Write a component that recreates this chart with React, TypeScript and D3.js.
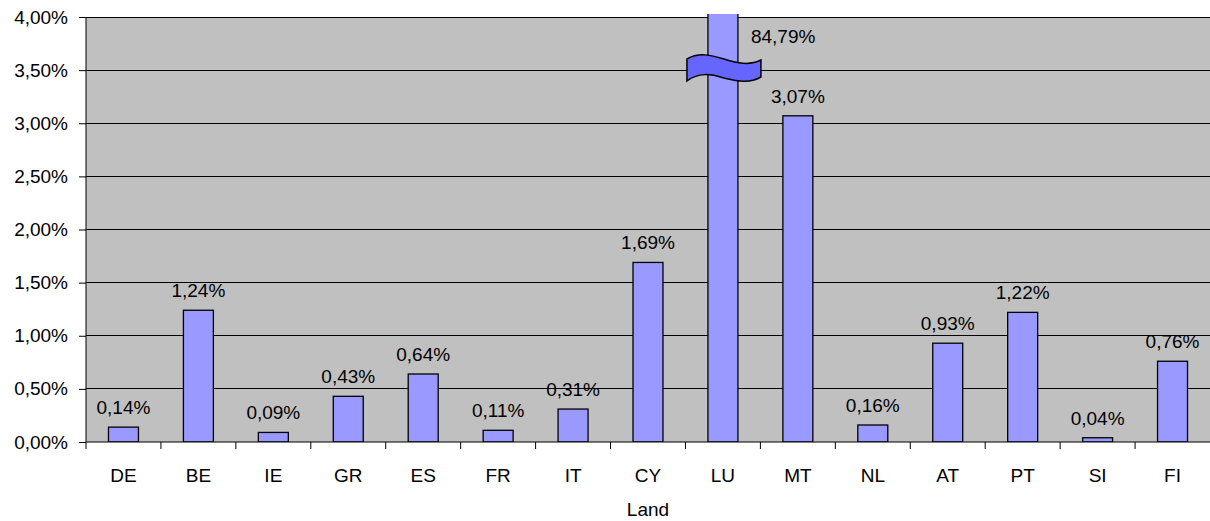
import React, {useEffect, useRef} from 'react';
import * as d3 from 'd3';

const categories = ['DE', 'BE', 'IE', 'GR', 'ES', 'FR', 'IT', 'CY', 'LU', 'MT', 'NL', 'AT', 'PT', 'SI', 'FI'];
const values = [0.0014, 0.0124, 0.0009, 0.0043, 0.0064, 0.0011, 0.0031, 0.0169, 0.8479, 0.0307, 0.0016, 0.0093, 0.0122, 0.0004, 0.0076];
const yTicks = [0, 0.005, 0.01, 0.015, 0.02, 0.025, 0.03, 0.035, 0.04];
const xTitle = 'Land';

const W = 1210;
const H = 521;
const FONT = '"Liberation Sans", Arial, sans-serif';
const FS = 19;

const App = () => {
  const svgRef = useRef<SVGSVGElement>(null);

  useEffect(() => {
    const svg = d3.select(svgRef.current);
    svg.selectAll('*').remove();

    const margin = {top: 17, right: 0, bottom: 79, left: 86};
    const plotW = W - margin.left - margin.right;
    const plotH = H - margin.top - margin.bottom;

    const loc = d3.formatLocale({decimal: ',', thousands: '.', grouping: [3], currency: ['', '€']});
    const pct = loc.format('.2%');

    const x = d3.scaleBand().domain(categories).range([0, plotW]).padding(0);
    const y = d3.scaleLinear().domain([0, 0.04]).range([plotH, 0]);
    const barW = x.bandwidth() * 0.4;

    const g = svg.append('g').attr('transform', `translate(${margin.left},${margin.top})`);

    g.append('rect')
      .attr('width', plotW)
      .attr('height', plotH)
      .attr('fill', '#c0c0c0');

    // gridlines
    g.selectAll('.grid')
      .data(yTicks.slice(1))
      .enter()
      .append('line')
      .attr('x1', 0)
      .attr('x2', plotW)
      .attr('y1', d => y(d))
      .attr('y2', d => y(d))
      .attr('stroke', '#000')
      .attr('stroke-width', 1)
      .attr('shape-rendering', 'crispEdges');

    g.append('clipPath').attr('id', 'plotclip')
      .append('rect').attr('x', 0).attr('y', -3).attr('width', plotW).attr('height', plotH + 3);

    g.append('g')
      .attr('clip-path', 'url(#plotclip)')
      .selectAll('.bar')
      .data(categories)
      .enter()
      .append('rect')
      .attr('x', d => x(d)! + (x.bandwidth() - barW) / 2)
      .attr('width', barW)
      .attr('y', (d, i) => y(Math.min(values[i], 0.0406)))
      .attr('height', (d, i) => plotH - y(Math.min(values[i], 0.0406)))
      .attr('fill', '#9999ff')
      .attr('stroke', '#000')
      .attr('stroke-width', 1.3);

    // axes
    const yAxis = g.append('g').call(d3.axisLeft(y).tickValues(yTicks).tickSize(7).tickFormat(d => pct(d as number)));
    yAxis.select('.domain').attr('stroke', '#000').attr('d', `M0,${plotH}V0`);
    yAxis.selectAll('text').attr('font-family', FONT).attr('font-size', FS).attr('fill', '#000').attr('x', -18);

    const xAxis = g.append('g').attr('transform', `translate(0,${plotH})`)
      .call(d3.axisBottom(x).tickSize(0).tickPadding(0));
    xAxis.select('.domain').attr('stroke', '#000').attr('d', `M0,0H${plotW}`);
    xAxis.selectAll('text').attr('font-family', FONT).attr('font-size', FS).attr('fill', '#000').attr('y', 40).attr('dy', 0);
    xAxis.selectAll('.boundary')
      .data(categories)
      .enter()
      .append('line')
      .attr('x1', d => x(d)!)
      .attr('x2', d => x(d)!)
      .attr('y1', 0)
      .attr('y2', 7)
      .attr('stroke', '#000');

    g.append('text')
      .attr('x', plotW / 2)
      .attr('y', plotH + 74)
      .attr('text-anchor', 'middle')
      .attr('font-family', FONT)
      .attr('font-size', FS)
      .text(xTitle);

    // value labels
    categories.forEach((c, i) => {
      const v = values[i];
      const cx = x(c)! + x.bandwidth() / 2;
      if (v > 0.04) {
        g.append('text')
          .attr('x', cx + barW / 2 + 13)
          .attr('y', 26)
          .attr('font-family', FONT)
          .attr('font-size', FS)
          .text(pct(v));
        // axis break symbol
        const bx = cx - 36;
        const by = y(0.0352) - 9;
        const p = `M${bx},${by} C${bx + 12},${by - 7} ${bx + 24},${by - 4} ${bx + 37},${by}`
          + ` C${bx + 50},${by + 4} ${bx + 62},${by + 7} ${bx + 74},${by + 1}`
          + ` L${bx + 74},${by + 18}`
          + ` C${bx + 62},${by + 25} ${bx + 50},${by + 22} ${bx + 37},${by + 19}`
          + ` C${bx + 24},${by + 15} ${bx + 12},${by + 13} ${bx},${by + 22} Z`;
        g.append('path')
          .attr('d', p)
          .attr('fill', '#6666ff')
          .attr('stroke', '#000')
          .attr('stroke-width', 1.5);
      } else {
        g.append('text')
          .attr('x', cx)
          .attr('y', y(v) - 13)
          .attr('text-anchor', 'middle')
          .attr('font-family', FONT)
          .attr('font-size', FS)
          .text(pct(v));
      }
    });
  }, []);

  return (
    <svg ref={svgRef} width={W} height={H} style={{position: 'absolute', left: 0, top: 0, background: '#fff'}} />
  );
};

export default App;
